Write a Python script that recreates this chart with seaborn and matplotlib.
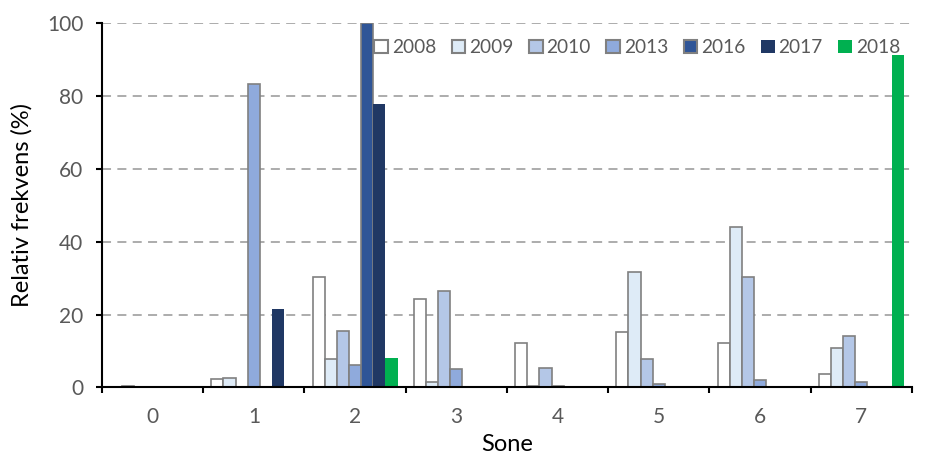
import numpy as np
import pandas as pd
import matplotlib
matplotlib.use("Agg")
import matplotlib.pyplot as plt
from matplotlib.patches import Patch
from matplotlib.ticker import FixedLocator, NullFormatter
import seaborn as sns

nan = np.nan

# Relative frequency (%) per zone for each survey year
zones = ["0", "1", "2", "3", "4", "5", "6", "7"]
years = ["2008", "2009", "2010", "2013", "2016", "2017", "2018"]
v2008 = [nan, 2.3, 30.3, 24.2, 12.1, 15.1, 12.1, 3.8]
v2009 = [0.5, 2.5, 7.9, 1.6, 0.5, 31.6, 43.9, 10.9]
v2010 = [nan, nan, 15.5, 26.4, 5.3, 7.7, 30.3, 14.2]
v2013 = [nan, 83.3, 6.1, 5.1, 0.5, 1.0, 2.0, 1.4]
v2016 = [nan, nan, 100.0, nan, nan, nan, nan, nan]
v2017 = [nan, 21.6, 77.9, nan, nan, nan, nan, nan]
v2018 = [nan, nan, 8.2, nan, nan, nan, nan, 91.1]
yticks = [0, 20, 40, 60, 80, 100]

series = [v2008, v2009, v2010, v2013, v2016, v2017, v2018]
colors = ["#FFFFFF", "#DEEBF7", "#B4C7E7", "#8FAADC", "#2F5597", "#203864", "#00B050"]
edges = ["#808080", "#808080", "#808080", "#808080", "#808080", "none", "none"]

rows = []
for yr, vals in zip(years, series):
    for z, v in zip(zones, vals):
        rows.append({"Sone": z, "Year": yr, "Value": v})
df = pd.DataFrame(rows).dropna()

sns.set_style("white")
plt.rcParams["font.family"] = ["Lato", "DejaVu Sans"]

fig = plt.figure(figsize=(9.39, 4.55), dpi=100)
ax = fig.add_axes([0.1086, 0.1484, 0.8626, 0.8011])

sns.barplot(data=df, x="Sone", y="Value", hue="Year", order=zones,
            hue_order=years, palette=dict(zip(years, colors)),
            width=0.84, gap=0, errorbar=None, legend=False, ax=ax,
            linewidth=0, saturation=1)

# Outline style per year
for cont, ec in zip(ax.containers, edges):
    for bar in cont:
        if ec == "none":
            bar.set_edgecolor("none")
            bar.set_linewidth(0)
        else:
            bar.set_edgecolor(ec)
            bar.set_linewidth(1.2)

ax.set_xlim(-0.5, 7.5)
ax.set_ylim(0, 100)
ax.set_yticks(yticks)
ax.yaxis.grid(True, color="#A6A6A6", linestyle=(0, (5, 3.5)), linewidth=1.3)
ax.set_axisbelow(True)

# Tick marks between zones, labels at zone centres
ax.xaxis.set_minor_locator(FixedLocator(np.arange(-0.5, 8.0, 1.0)))
ax.xaxis.set_minor_formatter(NullFormatter())
ax.tick_params(axis="x", which="major", length=0, pad=14,
               labelsize=15, labelcolor="#595959")
ax.tick_params(axis="x", which="minor", length=4.5, width=1.5,
               color="black", direction="out", bottom=True)
ax.tick_params(axis="y", which="major", length=4.5, width=1.5,
               color="black", direction="out", left=True,
               labelsize=15, labelcolor="#595959", pad=9)

for s in ["top", "right"]:
    ax.spines[s].set_visible(False)
for s in ["left", "bottom"]:
    ax.spines[s].set_color("black")
    ax.spines[s].set_linewidth(1.5)

ax.set_xlabel("Sone", fontsize=17, color="black", labelpad=5)
ax.set_ylabel("Relativ frekvens (%)", fontsize=17, color="black", labelpad=10)

handles = [Patch(facecolor=c, edgecolor=("#808080" if e != "none" else c),
                 linewidth=1.5 if e != "none" else 0)
           for c, e in zip(colors, edges)]
leg = fig.legend(handles, years, ncol=7, loc="center right",
                 bbox_to_anchor=(0.9585, 0.895), frameon=False,
                 fontsize=13.8, handlelength=0.72, handleheight=0.72,
                 handletextpad=0.2, columnspacing=0.8, borderpad=0,
                 borderaxespad=0)
for t in leg.get_texts():
    t.set_color("#595959")

fig.savefig("out.png", dpi=100)
